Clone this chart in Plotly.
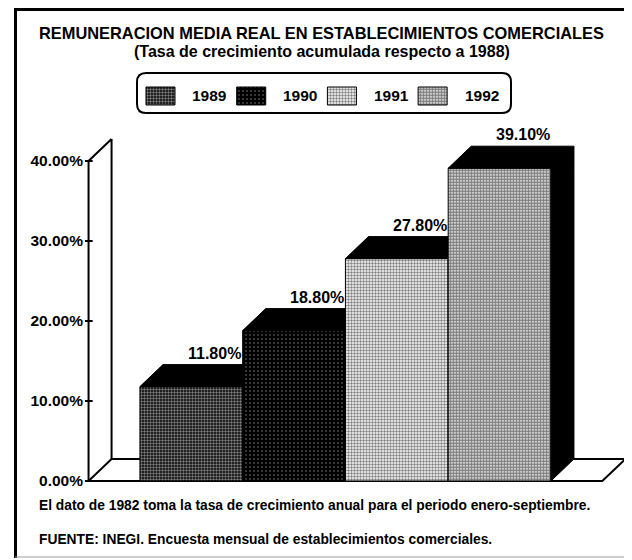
import plotly.graph_objects as go

# ---------------- data ----------------
years = ["1989", "1990", "1991", "1992"]
values = [11.8, 18.8, 27.8, 39.1]
value_labels = ["11.80%", "18.80%", "27.80%", "39.10%"]
tick_values = [0, 10, 20, 30, 40]
tick_labels = ["0.00%", "10.00%", "20.00%", "30.00%", "40.00%"]

title_text = "REMUNERACION MEDIA REAL EN ESTABLECIMIENTOS COMERCIALES"
subtitle_text = "(Tasa de crecimiento acumulada respecto a 1988)"
note_text = "El dato de 1982 toma la tasa de crecimiento anual para el periodo enero-septiembre."
source_text = "FUENTE: INEGI. Encuesta mensual de establecimientos comerciales."

# ---------------- styling / layout helpers ----------------
OFF = 8                 # default page margin of the html body
W, H = 632 - OFF, 560 - OFF
FONT = "Liberation Sans"


def px(x):
    return (x - OFF) / W


def py(y):
    return 1 - (y - OFF) / H


DX, DY = 0.224, 2.75          # pseudo 3-D depth (axis units)
X_LEFT, X_RIGHT = -1.0, 4.0   # floor extent
Y_TOP = max(tick_values)

patterns = [
    dict(shape=".", bgcolor="#000000", fgcolor="#ffffff", size=3, solidity=0.5),
    dict(shape=".", bgcolor="#000000", fgcolor="#ffffff", size=4, solidity=0.12),
    dict(shape=".", bgcolor="#ffffff", fgcolor="#000000", size=3, solidity=0.5),
    dict(shape=".", bgcolor="#ffffff", fgcolor="#000000", size=3, solidity=0.75),
]

fig = go.Figure()

# walls / floor frame
fx = [X_LEFT + DX, X_LEFT, X_LEFT, X_RIGHT, X_RIGHT + DX, X_LEFT + DX, X_LEFT + DX, None, X_LEFT, X_LEFT + DX]
fy = [Y_TOP + DY, Y_TOP, 0, 0, DY, DY, Y_TOP + DY, None, 0, DY]
fig.add_trace(go.Scatter(x=fx, y=fy, mode="lines", line=dict(color="black", width=2),
                         hoverinfo="skip", showlegend=False, zorder=0))

# tick marks crossing the front axis
tx, ty = [], []
for t in tick_values:
    tx += [X_LEFT - 0.035, X_LEFT + 0.04, None]
    ty += [t, t, None]
fig.add_trace(go.Scatter(x=tx, y=ty, mode="lines", line=dict(color="black", width=2),
                         hoverinfo="skip", showlegend=False, zorder=0))

# bars with pseudo-3D tops and sides
for k, (yr, v, pat) in enumerate(zip(years, values, patterns)):
    fig.add_trace(go.Bar(
        x=[k], y=[v], width=1, name=yr,
        marker=dict(color=pat["bgcolor"], pattern=pat, line=dict(color="black", width=1)),
        showlegend=False, zorder=2 * k + 1,
    ))
    poly_x = [k - 0.5, k - 0.5 + DX, k + 0.5 + DX, k + 0.5 + DX, k + 0.5, k + 0.5, k - 0.5]
    poly_y = [v, v + DY, v + DY, DY, 0, v, v]
    fig.add_trace(go.Scatter(
        x=poly_x, y=poly_y, mode="lines", fill="toself", fillcolor="black",
        line=dict(color="black", width=1), hoverinfo="skip", showlegend=False,
        zorder=2 * k + 2,
    ))
    fig.add_annotation(x=k + DX, y=v + DY, xref="x", yref="y", text=value_labels[k],
                       showarrow=False, yanchor="bottom", yshift=1,
                       font=dict(family=FONT, size=16, color="black", weight="bold"))

# custom legend (swatches on their own small axes)
for i, (yr, pat) in enumerate(zip(years, patterns)):
    fig.add_trace(go.Bar(
        x=[i], y=[0.45], base=[0.2], width=0.32, xaxis="x2", yaxis="y2",
        marker=dict(color=pat["bgcolor"], pattern=pat, line=dict(color="black", width=1)),
        showlegend=False, hoverinfo="skip",
    ))
    fig.add_annotation(x=i + 0.33, y=0.43, xref="x2", yref="y2", text=yr, showarrow=False,
                       xanchor="left", yanchor="middle",
                       font=dict(family=FONT, size=15.5, color="black", weight="bold"))

# rounded legend box
lx0, lx1, ly0, ly1, r = 137, 511, 73, 113, 9
path = (f"M{px(lx0 + r)},{py(ly0)} L{px(lx1 - r)},{py(ly0)} Q{px(lx1)},{py(ly0)} {px(lx1)},{py(ly0 + r)} "
        f"L{px(lx1)},{py(ly1 - r)} Q{px(lx1)},{py(ly1)} {px(lx1 - r)},{py(ly1)} "
        f"L{px(lx0 + r)},{py(ly1)} Q{px(lx0)},{py(ly1)} {px(lx0)},{py(ly1 - r)} "
        f"L{px(lx0)},{py(ly0 + r)} Q{px(lx0)},{py(ly0)} {px(lx0 + r)},{py(ly0)} Z")
fig.add_shape(type="path", path=path, xref="paper", yref="paper", line=dict(color="black", width=2))

# outer frame
fig.add_shape(type="line", xref="paper", yref="paper", x0=px(15.5), x1=px(15.5), y0=py(8), y1=py(558),
              line=dict(color="black", width=3))
fig.add_shape(type="line", xref="paper", yref="paper", x0=px(14), x1=px(632), y0=py(9.5), y1=py(9.5),
              line=dict(color="black", width=3))
fig.add_shape(type="line", xref="paper", yref="paper", x0=px(630), x1=px(630), y0=py(8), y1=py(558),
              line=dict(color="#555555", width=1))
fig.add_shape(type="line", xref="paper", yref="paper", x0=px(15), x1=px(630), y0=py(557), y1=py(557),
              line=dict(color="#999999", width=1))

# titles and notes
fig.add_annotation(x=px(321.5), y=py(33), xref="paper", yref="paper", text=title_text, showarrow=False,
                   xanchor="center", yanchor="middle",
                   font=dict(family=FONT, size=16.4, color="black", weight="bold"))
fig.add_annotation(x=px(321.5), y=py(51), xref="paper", yref="paper", text=subtitle_text, showarrow=False,
                   xanchor="center", yanchor="middle",
                   font=dict(family=FONT, size=16, color="black", weight="bold"))
fig.add_annotation(x=px(37), y=py(505), xref="paper", yref="paper", text=note_text, showarrow=False,
                   xanchor="left", yanchor="middle",
                   font=dict(family=FONT, size=13.8, color="black", weight="bold"))
fig.add_annotation(x=px(37), y=py(539), xref="paper", yref="paper", text=source_text, showarrow=False,
                   xanchor="left", yanchor="middle",
                   font=dict(family=FONT, size=13.8, color="black", weight="bold"))

fig.update_layout(
    width=W, height=H,
    margin=dict(l=0, r=0, t=0, b=0),
    paper_bgcolor="white", plot_bgcolor="white",
    barmode="overlay", showlegend=False,
    xaxis=dict(domain=[px(68), px(628)], range=[-1.2, 4.25], visible=False, fixedrange=True),
    yaxis=dict(domain=[py(489), py(121)], range=[-1, 45], anchor="free", position=px(88),
               tickmode="array", tickvals=tick_values, ticktext=tick_labels, ticks="",
               ticklabelstandoff=5, showgrid=False, zeroline=False, showline=False, fixedrange=True,
               tickfont=dict(family=FONT, size=15.5, color="black", weight="bold")),
    xaxis2=dict(domain=[px(137), px(511)], range=[-0.259, 3.864], visible=False, anchor="y2",
                fixedrange=True),
    yaxis2=dict(domain=[py(113), py(73)], range=[0, 1], visible=False, anchor="x2", fixedrange=True),
)

fig.write_html("out.html")
